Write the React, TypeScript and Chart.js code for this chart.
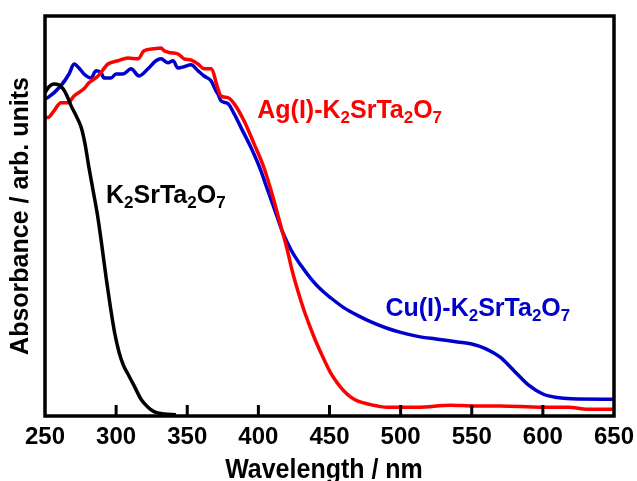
import React, { useEffect, useRef } from "react";
import { Chart, registerables } from "chart.js";

Chart.register(...registerables);

// ---- Data (wavelength in nm, absorbance in arb. units) ----
const blackWl = [250, 252.8, 256.3, 259.8, 262.7, 265.5, 268.3, 271.8, 275.3, 278.1, 280.9, 284, 287, 290, 293, 296, 299, 302, 305, 308.3, 312.6, 317.5, 322.4, 326.6, 333.7, 342];
const blackAbs = [0.808, 0.823, 0.83, 0.828, 0.818, 0.8, 0.776, 0.751, 0.723, 0.681, 0.621, 0.56, 0.5, 0.425, 0.345, 0.272, 0.207, 0.16, 0.128, 0.105, 0.076, 0.042, 0.022, 0.011, 0.005, 0.003];

const agWl = [250, 252.1, 256.3, 261.2, 266.2, 270.4, 277.4, 280.9, 287.3, 294.3, 301.3, 308.3, 315.4, 319.6, 326.6, 331.5, 333.7, 338.6, 343.5, 347.7, 352.6, 357.6, 361.8, 366.7, 371.6, 373.7, 378.6, 382.9, 389.9, 396.9, 404, 408, 412, 416, 420, 424, 428, 432, 436, 440, 445, 450, 455, 460, 465, 470, 477, 491, 512, 535, 551.6, 570, 598.7, 617.7, 631.7, 650];
const agAbs = [0.748, 0.746, 0.763, 0.783, 0.783, 0.8, 0.818, 0.833, 0.85, 0.88, 0.888, 0.895, 0.893, 0.913, 0.918, 0.92, 0.913, 0.908, 0.905, 0.893, 0.89, 0.88, 0.868, 0.868, 0.818, 0.8, 0.796, 0.781, 0.738, 0.681, 0.62, 0.575, 0.525, 0.472, 0.42, 0.36, 0.31, 0.265, 0.226, 0.19, 0.15, 0.113, 0.085, 0.063, 0.047, 0.037, 0.03, 0.022, 0.022, 0.027, 0.025, 0.025, 0.022, 0.022, 0.017, 0.017];

const cuWl = [250, 252, 261, 266.9, 270.4, 273.9, 277.4, 282.3, 285.9, 289.4, 291.5, 296.4, 299.9, 304.8, 310.5, 316.1, 322.4, 328, 331.5, 336.5, 340, 343.5, 347.7, 352.6, 357.6, 361.8, 366.7, 370.2, 371.6, 373.7, 378.6, 382.9, 387.8, 394.8, 401.8, 405, 409, 413, 417, 423, 430, 437, 444, 451, 460, 470, 480, 490, 500, 512, 526, 540, 550, 560, 570, 580, 590, 600, 610, 620, 650];
const cuAbs = [0.793, 0.796, 0.825, 0.855, 0.88, 0.87, 0.855, 0.845, 0.863, 0.858, 0.845, 0.845, 0.855, 0.855, 0.868, 0.85, 0.868, 0.888, 0.893, 0.883, 0.888, 0.87, 0.873, 0.878, 0.863, 0.85, 0.838, 0.813, 0.805, 0.788, 0.781, 0.756, 0.721, 0.671, 0.613, 0.58, 0.54, 0.5, 0.46, 0.415, 0.376, 0.343, 0.316, 0.295, 0.271, 0.251, 0.234, 0.22, 0.209, 0.199, 0.192, 0.185, 0.18, 0.168, 0.147, 0.112, 0.077, 0.055, 0.046, 0.043, 0.042];

const xTickValues = [300, 350, 400, 450, 500, 550, 600];
const xTitle = "Wavelength / nm";
const yTitle = "Absorbance / arb. units";

const FONT = "'Liberation Sans', Arial, Helvetica, sans-serif";

type Part = [string, boolean];
const seriesLabels: { parts: Part[]; color: string; x: number; y: number }[] = [
  { parts: [["Ag(I)-K", false], ["2", true], ["SrTa", false], ["2", true], ["O", false], ["7", true]], color: "#ff0000", x: 399.2, y: 0.745 },
  { parts: [["K", false], ["2", true], ["SrTa", false], ["2", true], ["O", false], ["7", true]], color: "#000000", x: 292.9, y: 0.5325 },
  { parts: [["Cu(I)-K", false], ["2", true], ["SrTa", false], ["2", true], ["O", false], ["7", true]], color: "#0000cc", x: 489.3, y: 0.25 },
];

const toPts = (xs: number[], ys: number[]) => xs.map((x, i) => ({ x, y: ys[i] }));

const framePlugin = {
  id: "frame",
  afterDatasetsDraw(chart: any) {
    const { ctx, chartArea, scales } = chart;
    const { left, right, top, bottom } = chartArea;
    ctx.save();
    // inner tick marks
    ctx.strokeStyle = "#000";
    ctx.lineWidth = 3;
    ctx.beginPath();
    xTickValues.forEach((v) => {
      const px = scales.x.getPixelForValue(v);
      ctx.moveTo(px, bottom);
      ctx.lineTo(px, bottom - 11);
    });
    ctx.stroke();
    // frame
    ctx.lineWidth = 3.5;
    ctx.strokeRect(left, top, right - left, bottom - top);
    // series labels
    const main = 25;
    const sub = 17;
    ctx.textBaseline = "alphabetic";
    ctx.textAlign = "left";
    seriesLabels.forEach((lab) => {
      let x = scales.x.getPixelForValue(lab.x);
      const y = scales.y.getPixelForValue(lab.y);
      ctx.fillStyle = lab.color;
      lab.parts.forEach(([t, isSub]) => {
        ctx.font = `bold ${isSub ? sub : main}px ${FONT}`;
        ctx.fillText(t, x, isSub ? y + 5 : y);
        x += ctx.measureText(t).width;
      });
    });
    // x axis title (slightly tall lettering)
    ctx.fillStyle = "#000";
    ctx.font = `bold 25px ${FONT}`;
    ctx.textAlign = "center";
    ctx.textBaseline = "alphabetic";
    ctx.translate(324, 478);
    ctx.scale(1, 1.13);
    ctx.fillText(xTitle, 0, 0);
    ctx.restore();
  },
};

export default function App() {
  const ref = useRef<HTMLCanvasElement | null>(null);
  useEffect(() => {
    if (!ref.current) return;
    const chart = new Chart(ref.current, {
      type: "line",
      data: {
        datasets: [
          { data: toPts(blackWl, blackAbs), borderColor: "#000000" },
          { data: toPts(agWl, agAbs), borderColor: "#ff0000" },
          { data: toPts(cuWl, cuAbs), borderColor: "#0000cc" },
        ],
      },
      options: {
        animation: false,
        responsive: false,
        maintainAspectRatio: false,
        layout: { padding: { top: 16, right: 23, left: 0, bottom: 0 } },
        plugins: { legend: { display: false }, tooltip: { enabled: false } },
        elements: {
          point: { radius: 0 },
          line: { borderWidth: 3.5, cubicInterpolationMode: "monotone", fill: false },
        },
        scales: {
          x: {
            type: "linear",
            min: 250,
            max: 650,
            ticks: { stepSize: 50, color: "#000", padding: 1, font: { family: FONT, size: 24, weight: "bold", lineHeight: 1 } },
            grid: { display: false },
            border: { display: false },
            title: { display: false },
            afterFit: (s: any) => { s.height = 65; },
          },
          y: {
            type: "linear",
            min: 0,
            max: 1,
            ticks: { display: false },
            grid: { display: false },
            border: { display: false },
            title: { display: true, text: yTitle, color: "#000", padding: { top: 9, bottom: 0 }, font: { family: FONT, size: 25, weight: "bold", lineHeight: 1 } },
            afterFit: (s: any) => { s.width = 45; },
          },
        },
      },
      plugins: [framePlugin],
    } as any);
    return () => chart.destroy();
  }, []);
  return (
    <div style={{ position: "absolute", left: 0, top: 0, width: 637, height: 481, background: "#fff" }}>
      <canvas ref={ref} width={637} height={481} style={{ display: "block" }} />
    </div>
  );
}
